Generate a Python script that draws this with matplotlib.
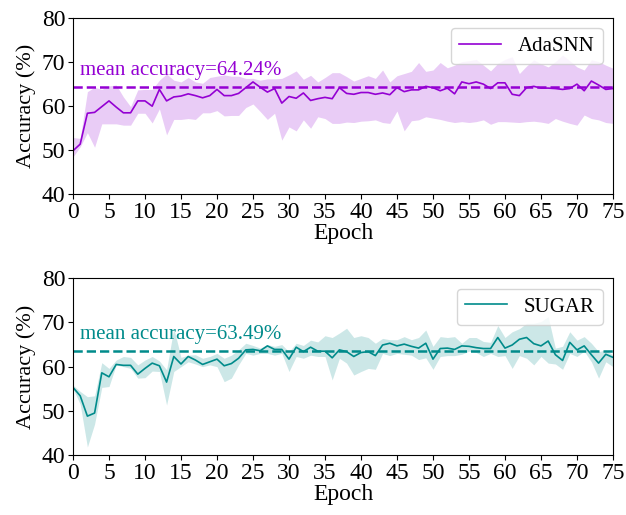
import numpy as np
import matplotlib
matplotlib.use("Agg")
import matplotlib.pyplot as plt

plt.rcParams['font.family'] = ['Liberation Serif', 'DejaVu Serif']

# epochs 0..75
epochs = np.arange(0, 76)

# AdaSNN accuracy (mean) and band limits
ada_mean = [49.8, 51.3, 58.3, 58.5, 59.8, 61.1, 59.7, 58.4, 58.4, 61.1,
            61.1, 59.9, 63.7, 61.1, 62.0, 62.2, 62.7, 62.3, 61.8, 62.3,
            63.7, 62.3, 62.3, 62.8, 64.1, 65.4, 64.2, 63.1, 63.9, 60.6,
            62.1, 61.7, 62.9, 61.2, 61.6, 61.9, 61.6, 64.1, 62.8, 62.6,
            63.0, 63.0, 62.6, 62.9, 62.5, 64.1, 63.2, 63.6, 63.6, 64.4,
            64.1, 63.4, 64.0, 62.7, 65.4, 65.0, 65.4, 64.9, 63.9, 65.2,
            65.2, 62.6, 62.3, 64.1, 64.4, 64.0, 64.0, 63.9, 63.7, 63.9,
            64.9, 63.4, 65.6, 64.7, 63.7, 63.9]
ada_upper = [52.8, 52.6, 63.2, 64.2, 63.7, 64.5, 64.7, 62.0, 59.8, 63.6,
             63.7, 63.7, 65.8, 67.2, 65.8, 65.4, 66.4, 65.4, 65.1, 66.4,
             66.7, 67.0, 66.7, 66.7, 66.2, 66.2, 65.8, 66.1, 66.1, 66.2,
             67.0, 67.9, 66.0, 66.9, 65.4, 66.4, 67.5, 67.5, 66.6, 65.6,
             66.2, 66.8, 66.2, 68.1, 65.4, 66.8, 67.3, 67.8, 69.8, 67.8,
             68.1, 69.8, 68.6, 69.2, 70.0, 70.2, 70.5, 69.2, 67.9, 69.6,
             70.5, 71.1, 67.3, 69.0, 70.4, 69.5, 68.8, 70.0, 71.5, 70.2,
             68.8, 68.1, 70.4, 70.0, 69.2, 68.5]
ada_lower = [48.4, 50.7, 53.9, 50.6, 55.9, 55.9, 55.9, 55.6, 55.6, 58.3,
             58.3, 56.1, 59.3, 53.4, 56.9, 56.9, 57.1, 56.9, 58.4, 58.4,
             58.9, 57.7, 57.8, 57.8, 59.6, 60.4, 58.7, 56.9, 58.3, 52.2,
             55.2, 54.3, 56.8, 54.9, 57.5, 57.1, 56.0, 56.0, 56.3, 56.2,
             56.5, 56.6, 56.8, 56.2, 56.0, 58.8, 54.3, 56.6, 56.8, 57.5,
             57.2, 56.9, 56.5, 56.2, 56.4, 56.2, 56.4, 56.8, 55.8, 56.4,
             56.4, 56.3, 56.2, 56.4, 56.5, 56.3, 56.0, 57.1, 56.5, 56.0,
             55.6, 57.9, 57.1, 56.8, 56.2, 56.0]
ada_avg = 64.24

# SUGAR accuracy (mean) and band limits
sugar_mean = [55.3, 53.4, 48.8, 49.5, 58.6, 57.7, 60.5, 60.3, 60.3, 58.3,
              59.6, 60.8, 60.2, 56.5, 62.3, 60.6, 62.3, 61.5, 60.5, 61.1,
              61.7, 60.2, 60.7, 61.9, 63.8, 63.9, 63.6, 64.7, 63.9, 63.9,
              61.7, 64.4, 63.4, 64.4, 63.5, 63.5, 62.0, 63.8, 63.4, 62.3,
              63.2, 63.4, 62.5, 64.9, 65.3, 64.7, 65.1, 64.6, 64.2, 65.3,
              61.7, 64.1, 64.2, 63.9, 64.7, 64.6, 64.3, 64.1, 64.1, 66.6,
              64.2, 64.9, 66.2, 66.6, 65.2, 64.7, 65.8, 62.7, 61.4, 65.5,
              63.8, 64.7, 62.7, 60.8, 62.8, 62.1]
sugar_upper = [55.8, 54.4, 53.2, 53.4, 60.9, 59.6, 61.5, 62.3, 62.1, 60.4,
               61.5, 62.3, 61.3, 59.3, 68.7, 62.1, 62.6, 62.7, 61.9, 62.3,
               63.0, 61.9, 62.6, 63.8, 65.3, 64.8, 64.2, 65.0, 64.6, 65.0,
               63.4, 65.3, 64.8, 66.0, 65.6, 67.0, 66.6, 67.6, 68.7, 66.6,
               67.0, 66.6, 65.3, 66.4, 66.1, 66.1, 66.8, 66.1, 66.6, 68.3,
               64.6, 66.8, 66.6, 66.8, 65.3, 66.6, 66.6, 65.7, 65.5, 69.3,
               66.6, 67.9, 68.6, 69.8, 69.8, 70.2, 71.3, 64.2, 64.6, 67.9,
               66.0, 66.8, 65.3, 63.4, 63.8, 62.6]
sugar_lower = [55.0, 51.5, 41.8, 47.0, 55.3, 55.5, 60.4, 60.0, 59.6, 57.4,
               57.5, 59.0, 58.9, 51.3, 58.9, 60.0, 61.1, 60.6, 60.0, 60.4,
               60.0, 56.6, 57.4, 60.4, 63.0, 62.6, 63.0, 63.0, 62.6, 63.0,
               58.9, 62.3, 61.9, 62.6, 62.3, 62.3, 57.0, 61.9, 60.8, 58.1,
               58.9, 59.6, 59.4, 63.0, 62.5, 63.0, 62.8, 62.6, 61.6, 62.0,
               59.4, 62.3, 62.5, 62.5, 62.8, 63.5, 63.2, 62.3, 63.0, 62.3,
               62.5, 59.6, 62.5, 61.9, 60.4, 62.3, 60.8, 60.6, 59.4, 63.0,
               62.3, 63.5, 61.1, 57.4, 61.1, 60.0]
sugar_avg = 63.49

fig = plt.figure(figsize=(6.26, 5.15), dpi=100)
ax1 = fig.add_axes([0.1166, 0.6233, 0.8626, 0.3427])
ax2 = fig.add_axes([0.1166, 0.1165, 0.8626, 0.3431])

panels = [
    (ax1, ada_mean, ada_upper, ada_lower, ada_avg, "AdaSNN", "#9400d3"),
    (ax2, sugar_mean, sugar_upper, sugar_lower, sugar_avg, "SUGAR", "#008b8b"),
]

for ax, m, up, lo, avg, name, col in panels:
    ax.fill_between(epochs, lo, up, color=col, alpha=0.2, linewidth=0)
    ax.plot(epochs, m, color=col, linewidth=1.2, label=name)
    ax.axhline(avg, color=col, linestyle="--", linewidth=1.8)
    ax.text(1, avg + 1.6, "mean accuracy=%.2f%%" % avg, color=col,
            fontsize=15, va="bottom", ha="left")
    ax.set_xlim(0, 75)
    ax.set_ylim(40, 80)
    ax.set_xticks(np.arange(0, 76, 5))
    ax.set_yticks(np.arange(40, 81, 10))
    ax.tick_params(labelsize=17, pad=2)
    ax.set_xlabel("Epoch", fontsize=17, labelpad=0)
    ax.set_ylabel("Accuracy (%)", fontsize=16, labelpad=4)
    ax.legend(loc="upper right", fontsize=15, handlelength=2.0)

fig.savefig("out.png", dpi=100)
